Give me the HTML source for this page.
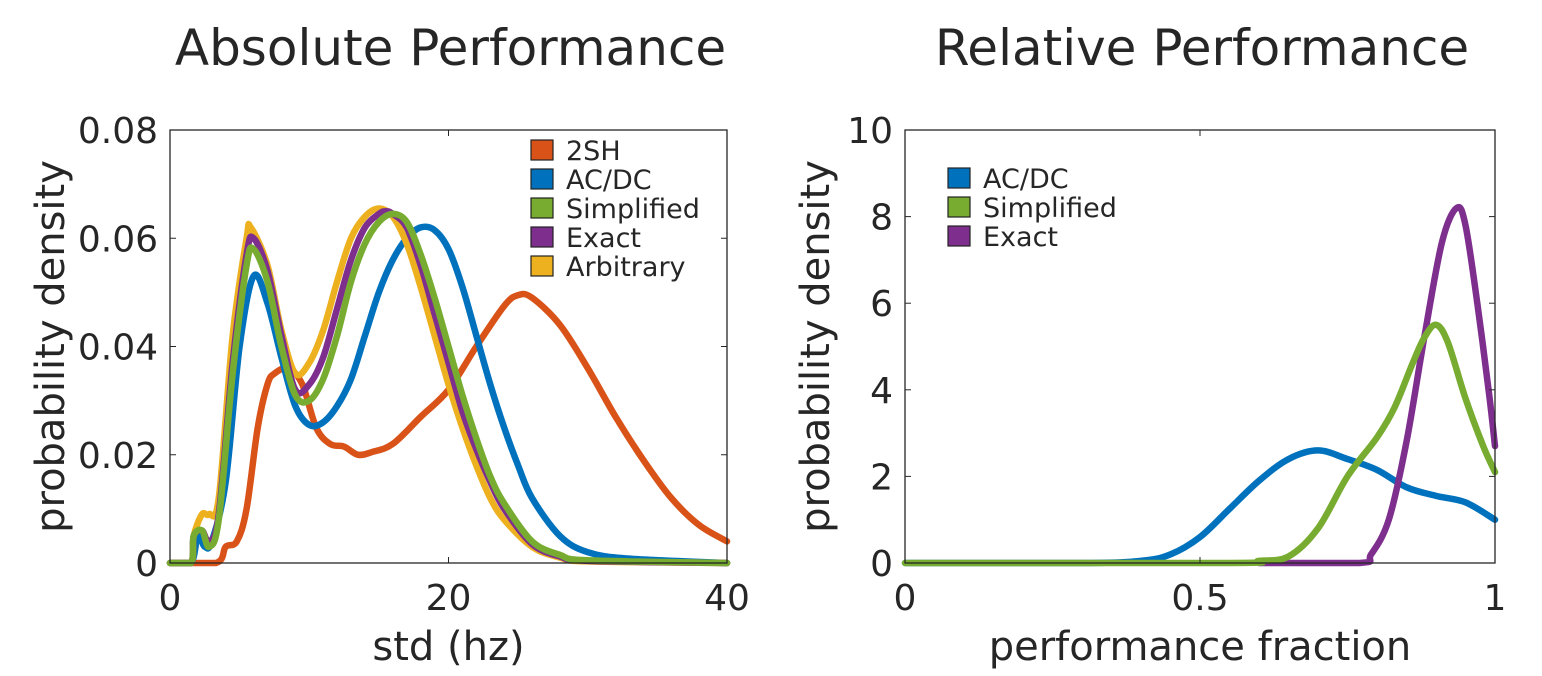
<!DOCTYPE html>
<html><head><meta charset="utf-8"><style>
body{margin:0;background:#fff;}
svg text{font-family:"DejaVu Sans","Liberation Sans",sans-serif;fill:#262626;}
</style></head><body>
<svg id="chart" width="1542" height="671" xmlns="http://www.w3.org/2000/svg">
<g id="left"></g>
<g id="right"></g>
</svg>
<script>
const leftX_2SH=[0,3.3,4,4.8,5.5,6.3,7,7.5,8.5,9.5,10.5,11.5,12.5,13.5,14.5,16,18,20,22,24,25,26,28,30,32,34,36,38,40];
const leftY_2SH=[0,0,0.003,0.004,0.01,0.025,0.033,0.035,0.036,0.033,0.025,0.022,0.0215,0.02,0.0205,0.022,0.027,0.032,0.04,0.0475,0.0495,0.049,0.044,0.036,0.027,0.019,0.012,0.007,0.004];
const leftX_ACDC=[0,1.5,2,2.5,3,4,5,6,7,8,9,10,11,12,13,14,15,16,17,18,19,20,21,22,23,24,25,26,28,30,33,40];
const leftY_ACDC=[0,0,0.005,0.003,0.004,0.015,0.04,0.053,0.048,0.038,0.029,0.0255,0.026,0.029,0.034,0.042,0.05,0.056,0.06,0.062,0.0615,0.058,0.051,0.042,0.033,0.025,0.018,0.012,0.005,0.002,0.0008,0];
const leftX_Simp=[0,1.5,1.7,2.3,2.8,3.5,4.5,5.5,6,7,8,9,10,11,12,13,14,15,16,17,18,19,20,21,22,23,24,26,28,30,40];
const leftY_Simp=[0,0,0.005,0.006,0.003,0.008,0.035,0.055,0.058,0.052,0.04,0.031,0.03,0.034,0.042,0.052,0.059,0.063,0.0645,0.063,0.057,0.049,0.04,0.031,0.023,0.016,0.011,0.004,0.0015,0.0005,0];
const leftX_Exact=[0,1.5,1.7,2.3,2.8,3.5,4.5,5.5,6,7,8,9,10,11,12,13,14,15,15.5,16,17,18,19,20,21,22,23,24,26,28,30,40];
const leftY_Exact=[0,0,0.005,0.006,0.004,0.009,0.037,0.057,0.06,0.054,0.042,0.032,0.033,0.038,0.047,0.056,0.062,0.0645,0.065,0.0645,0.062,0.055,0.046,0.037,0.028,0.021,0.015,0.01,0.0035,0.0012,0.0004,0];
const leftX_Arb=[0,1.5,1.7,2.3,2.8,3.5,4.5,5.5,5.8,7,8,9,10,11,12,13,14,15,16,17,18,19,20,21,22,23,24,26,28,30,40];
const leftY_Arb=[0,0,0.005,0.009,0.009,0.012,0.042,0.06,0.062,0.055,0.043,0.035,0.037,0.043,0.052,0.06,0.064,0.0655,0.064,0.059,0.051,0.042,0.033,0.025,0.018,0.012,0.008,0.003,0.001,0.0003,0];
const rightX_ACDC=[0,0.3,0.4,0.45,0.5,0.55,0.6,0.65,0.7,0.75,0.8,0.85,0.9,0.95,1.0];
const rightY_ACDC=[0,0,0.05,0.2,0.6,1.25,1.9,2.4,2.6,2.4,2.15,1.75,1.55,1.4,1.0];
const rightX_Simp=[0,0.55,0.6,0.65,0.7,0.75,0.8,0.83,0.86,0.88,0.9,0.92,0.95,0.98,1.0];
const rightY_Simp=[0,0,0.05,0.15,0.8,2.0,2.9,3.6,4.6,5.2,5.5,5.1,3.8,2.7,2.1];
const rightX_Exact=[0.6,0.77,0.79,0.82,0.85,0.88,0.91,0.935,0.95,0.97,0.99,1.0];
const rightY_Exact=[0,0,0.2,1.0,2.8,5.2,7.4,8.2,7.8,6.0,3.9,2.7];
const leftXTicks=[0,20,40];
const leftYTicks=[0,0.02,0.04,0.06,0.08];
const rightXTicks=[0,0.5,1];
const rightXTickLabels=["0","0.5","1"];
const rightYTicks=[0,2,4,6,8,10];
const legendLeft=["2SH","AC/DC","Simplified","Exact","Arbitrary"];
const legendRight=["AC/DC","Simplified","Exact"];

const NS="http://www.w3.org/2000/svg";
const C={o:"#D95319",b:"#0072BD",g:"#77AC30",p:"#7E2F8E",y:"#EDB120"};
function mk(parent,tag,attrs){const e=document.createElementNS(NS,tag);for(const k in attrs)e.setAttribute(k,attrs[k]);parent.appendChild(e);return e;}
function smooth(pts,ymax){const cl=v=>Math.min(v,ymax);let d="M"+pts[0][0]+","+pts[0][1];for(let i=0;i<pts.length-1;i++){const p0=pts[Math.max(0,i-1)],p1=pts[i],p2=pts[i+1],p3=pts[Math.min(pts.length-1,i+2)];
const c1=[p1[0]+(p2[0]-p0[0])/6,cl(p1[1]+(p2[1]-p0[1])/6)],c2=[p2[0]-(p3[0]-p1[0])/6,cl(p2[1]-(p3[1]-p1[1])/6)];
if(p1[1]===ymax&&p2[1]===ymax){c1[1]=ymax;c2[1]=ymax;}
d+=" C"+c1[0]+","+c1[1]+" "+c2[0]+","+c2[1]+" "+p2[0]+","+p2[1];}return d;}
function panel(g,ax,title,ylab,xlab,xt,xtl,yt,ytl,series,legend,lgx,lgy,ylOff){
 const sx=v=>ax.x0+(v-ax.xmin)/(ax.xmax-ax.xmin)*(ax.x1-ax.x0);
 const sy=v=>ax.y0-(v-ax.ymin)/(ax.ymax-ax.ymin)*(ax.y0-ax.y1);
 let t=mk(g,"text",{x:(ax.x0+ax.x1)/2+2,y:65,"font-size":50,"text-anchor":"middle",fill:"#000"});t.textContent=title;
 
 
 series.forEach(s=>{const pts=s.x.map((v,i)=>[sx(v),sy(s.y[i])]);
  const p=mk(g,"path",{d:smooth(pts,ax.y0),fill:"none",stroke:s.c,"stroke-width":6.5,"stroke-linejoin":"round","stroke-linecap":"round"});
  
  });
 const box=mk(g,"rect",{x:ax.x0,y:ax.y1,width:ax.x1-ax.x0,height:ax.y0-ax.y1,fill:"none",stroke:"#262626","stroke-width":1.3});
 
 
 xt.forEach((v,i)=>{const x=sx(v);mk(g,"line",{x1:x,x2:x,y1:ax.y0,y2:ax.y0-6,stroke:"#262626"});mk(g,"line",{x1:x,x2:x,y1:ax.y1,y2:ax.y1+6,stroke:"#262626"});
  const l=mk(g,"text",{x:x,y:ax.y0+47,"font-size":36,"text-anchor":"middle"});l.textContent=xtl[i];
  
  });
 yt.forEach((v,i)=>{const y=sy(v);mk(g,"line",{x1:ax.x0,x2:ax.x0+6,y1:y,y2:y,stroke:"#262626"});mk(g,"line",{x1:ax.x1,x2:ax.x1-6,y1:y,y2:y,stroke:"#262626"});
  const l=mk(g,"text",{x:ax.x0-12,y:y+13,"font-size":36,"text-anchor":"end"});l.textContent=ytl[i];
  
  });
 let xl=mk(g,"text",{x:(ax.x0+ax.x1)/2,y:660,"font-size":40,"text-anchor":"middle"});xl.textContent=xlab;
 
 
 let yl=mk(g,"text",{x:0,y:0,"font-size":40,"text-anchor":"middle",transform:"translate("+(ax.x0-ylOff)+","+((ax.y0+ax.y1)/2)+") rotate(-90)"});yl.textContent=ylab;
 
 
 legend.forEach((n,i)=>{const y=lgy+i*29;
  const r=mk(g,"rect",{x:lgx,y:y-10,width:22,height:20,fill:legend.c[i],stroke:"#222","stroke-width":1.2});
  
  
  const l=mk(g,"text",{x:lgx+35,y:y+10,"font-size":27,fill:"#000"});l.textContent=n;
  
  });
}
const L=document.getElementById("left"),R=document.getElementById("right");
const ll=legendLeft.slice();ll.c=[C.o,C.b,C.g,C.p,C.y];
panel(L,{x0:170,x1:727,y0:563,y1:130,xmin:0,xmax:40,ymin:0,ymax:0.08},"Absolute Performance","probability density","std (hz)",
 leftXTicks,leftXTicks.map(String),leftYTicks,leftYTicks.map(v=>v===0?"0":v.toFixed(2)),
 [{x:leftX_2SH,y:leftY_2SH,c:C.o,n:"line-2sh"},{x:leftX_ACDC,y:leftY_ACDC,c:C.b,n:"line-acdc"},{x:leftX_Arb,y:leftY_Arb,c:C.y,n:"line-arbitrary"},{x:leftX_Exact,y:leftY_Exact,c:C.p,n:"line-exact"},{x:leftX_Simp,y:leftY_Simp,c:C.g,n:"line-simplified"}],
 ll,531,150,106);
const lr=legendRight.slice();lr.c=[C.b,C.g,C.p];
panel(R,{x0:905,x1:1495,y0:563,y1:130,xmin:0,xmax:1,ymin:0,ymax:10},"Relative Performance","probability density","performance fraction",
 rightXTicks,rightXTickLabels,rightYTicks,rightYTicks.map(String),
 [{x:rightX_ACDC,y:rightY_ACDC,c:C.b,n:"line-acdc"},{x:rightX_Exact,y:rightY_Exact,c:C.p,n:"line-exact"},{x:rightX_Simp,y:rightY_Simp,c:C.g,n:"line-simplified"}],
 lr,948,178,76);
</script>
</body></html>
